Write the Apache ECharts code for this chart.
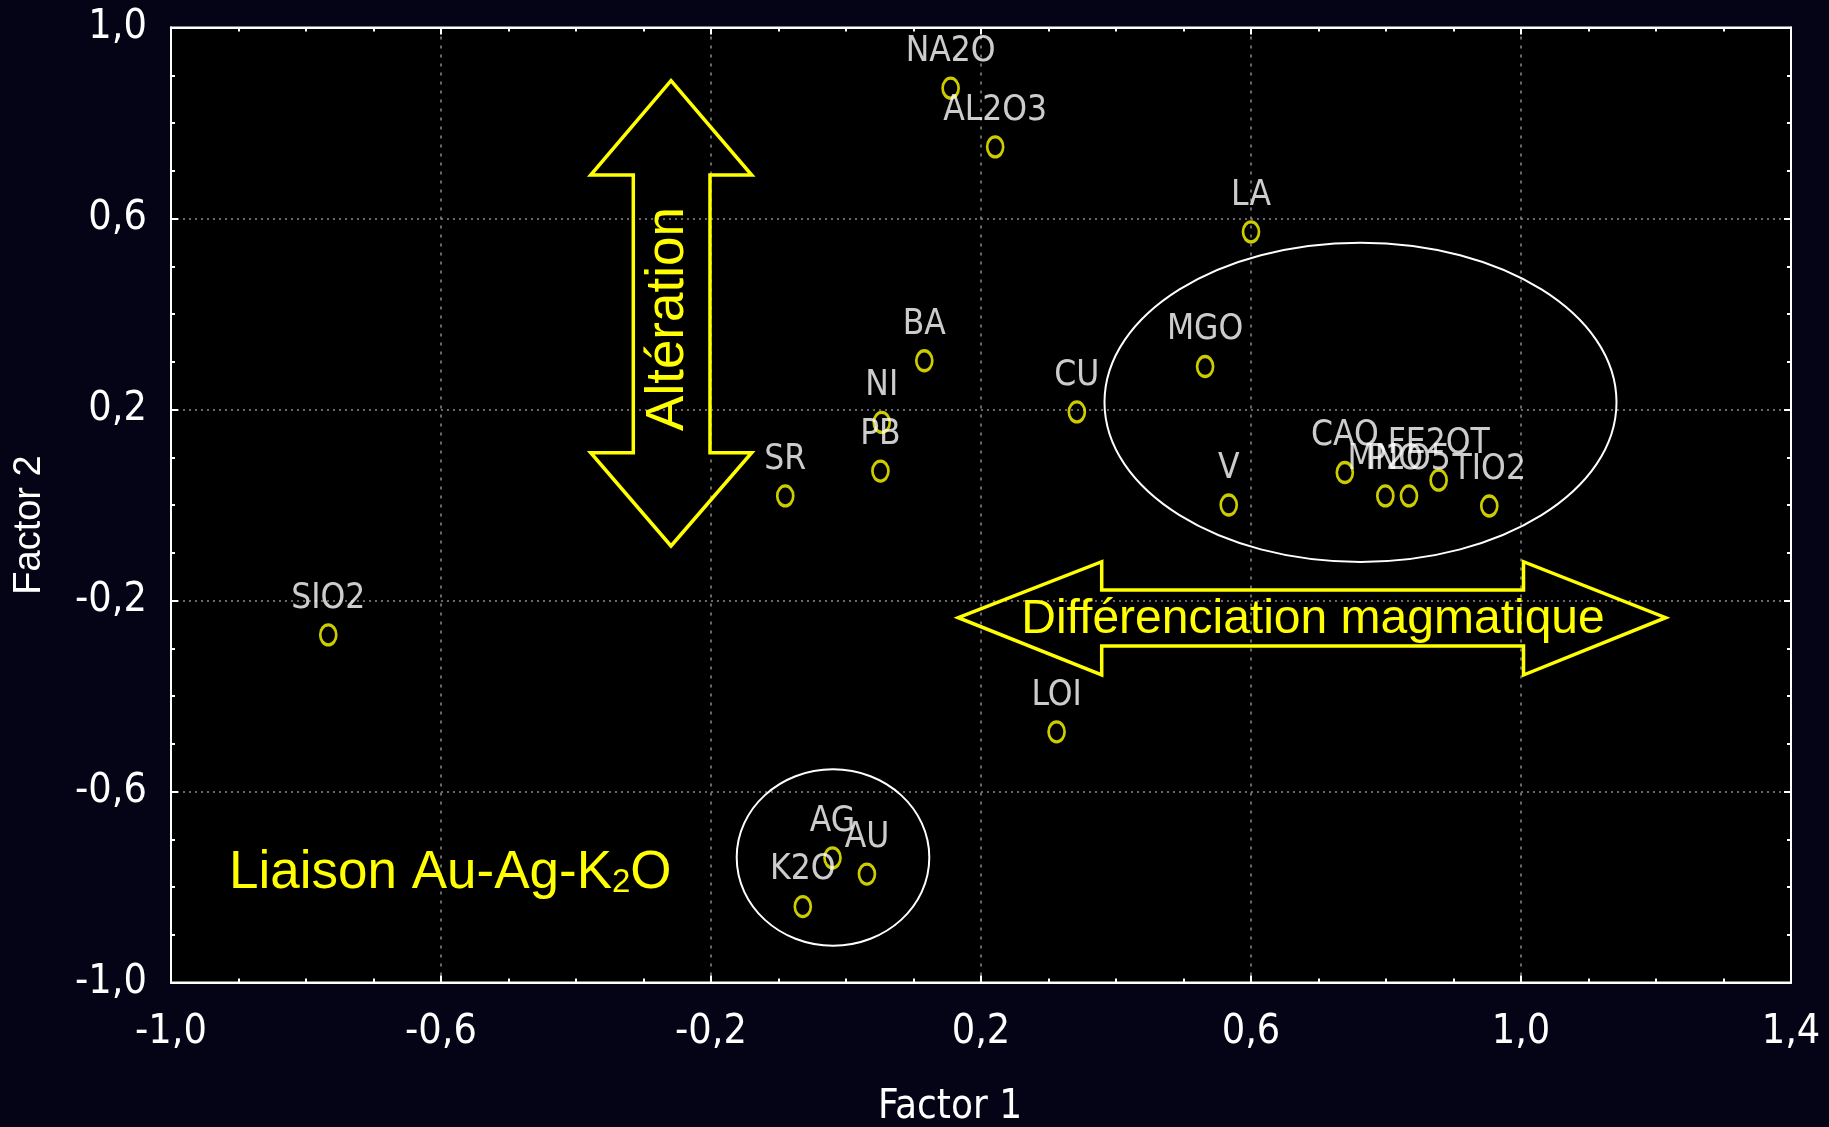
<!DOCTYPE html>
<html>
<head>
<meta charset="utf-8">
<style>
html,body{margin:0;padding:0;background:#040416;}
#chart{width:1829px;height:1127px;}
</style>
<script src="https://cdn.jsdelivr.net/npm/echarts@6/dist/echarts.min.js"></script>
</head>
<body>
<div id="chart"></div>
<script>
// ---- data ----
const variables = ['NA2O','AL2O3','LA','BA','NI','PB','SR','CU','MGO','V','CAO','MNO','P2O5','FE2OT','TIO2','SIO2','LOI','AG','AU','K2O'];
const factor1  = [0.155, 0.221, 0.600, 0.116, 0.053, 0.051, -0.090, 0.342, 0.532, 0.567, 0.739, 0.799, 0.834, 0.878, 0.953, -0.767, 0.312, -0.020, 0.031, -0.064];
const factor2  = [0.873, 0.750, 0.572, 0.302, 0.173, 0.071, 0.019, 0.195, 0.290, 0.000, 0.068, 0.019, 0.019, 0.052, -0.002, -0.272, -0.475, -0.739, -0.773, -0.841];
const xTickLabels = ['-1,0','-0,6','-0,2','0,2','0,6','1,0','1,4'];
const yTickLabels = ['-1,0','-0,6','-0,2','0,2','0,6','1,0'];
const xAxisName = 'Factor 1';
const yAxisName = 'Factor 2';
const noteAlteration = 'Altération';
const noteDiff = 'Différenciation magmatique';
const noteLiaison = ['Liaison Au-Ag-K', '2', 'O'];

// ---- styles ----
const NARROW = "'Liberation Sans Narrow','Arial Narrow','DejaVu Sans Condensed',sans-serif";
const SANS = "'Liberation Sans',Arial,sans-serif";
const YEL = '#ffff00';

const chart = echarts.init(document.getElementById('chart'), null, {renderer:'canvas'});

function tickFmt(labels, min, step){
  return v => { const i = Math.round((v - min) / step); return labels[i] !== undefined ? labels[i] : ''; };
}

const common = {
  type:'value',
  axisLine:{show:true, onZero:false, lineStyle:{color:'#ffffff', width:2}},
  axisTick:{show:true, inside:true, length:7, lineStyle:{color:'#ffffff', width:2}},
  minorTick:{show:true, splitNumber:4, length:4, lineStyle:{color:'#ffffff', width:2}},
  minorSplitLine:{show:false}
};

const option = {
  backgroundColor:'#040416',
  animation:false,
  grid:{left:171, right:38, top:27.5, bottom:144.5, containLabel:false, outerBoundsMode:'none',
    show:true, backgroundColor:'#000000', borderColor:'#ffffff', borderWidth:2},
  xAxis:[
    Object.assign({}, common, {
      min:-1, max:1.4, interval:0.4, position:'bottom',
      splitLine:{show:true, lineStyle:{color:'#8a8a8a', width:1.5, type:[3,6]}},
      axisLabel:{show:true, color:'#ffffff', fontSize:41, lineHeight:41, fontFamily:NARROW, margin:29,
        showMinLabel:true, showMaxLabel:true, formatter:tickFmt(xTickLabels, -1, 0.4)},
      name:xAxisName, nameLocation:'middle', nameGap:109,
      nameTextStyle:{color:'#ffffff', fontSize:40, lineHeight:32, fontFamily:NARROW, padding:[0,62,0,0]}
    }),
    Object.assign({}, common, {
      min:-1, max:1.4, interval:0.4, position:'top',
      splitLine:{show:false}, axisLabel:{show:false}
    })
  ],
  yAxis:[
    Object.assign({}, common, {
      min:-1, max:1, interval:0.4, position:'left',
      splitLine:{show:true, lineStyle:{color:'#8a8a8a', width:1.5, type:[2,4]}},
      axisLabel:{show:true, color:'#ffffff', fontSize:41, lineHeight:41, fontFamily:NARROW, margin:24,
        showMinLabel:true, showMaxLabel:true, formatter:tickFmt(yTickLabels, -1, 0.4)},
      name:yAxisName, nameLocation:'middle', nameGap:122,
      nameTextStyle:{color:'#ffffff', fontSize:38, lineHeight:38, fontFamily:SANS, padding:[0,40,0,0]}
    }),
    Object.assign({}, common, {
      min:-1, max:1, interval:0.4, position:'right',
      splitLine:{show:false}, axisLabel:{show:false}
    })
  ],
  series:[{
    type:'scatter',
    xAxisIndex:0, yAxisIndex:0,
    data: variables.map((n,i)=>[factor1[i], factor2[i], n]),
    symbol:'path://M10,0 A10,10 0 1,1 10,20 A10,10 0 1,1 10,0 Z',
    symbolSize:[16,20],
    itemStyle:{color:'rgba(0,0,0,0)', borderColor:YEL, borderWidth:3},
    label:{show:true, position:'top', distance:7, color:'#ffffff', fontSize:35, lineHeight:35,
      fontFamily:NARROW, formatter:p=>p.data[2]},
    emphasis:{disabled:true},
    z:5
  }],
  graphic:[
    // Altération double arrow
    {type:'polygon', z:3, shape:{points:[[671,80.7],[751.7,175],[710,175],[710,452.7],[751.7,452.7],[671,546],[590.7,452.7],[633.3,452.7],[633.3,175],[590.7,175]]},
      style:{fill:null, stroke:YEL, lineWidth:3.5, lineJoin:'miter'}},
    {type:'text', z:4, x:668, y:319, rotation:Math.PI/2,
      style:{text:noteAlteration, fill:YEL, fontSize:53, fontFamily:SANS, align:'center', verticalAlign:'middle'}},
    // Différenciation double arrow
    {type:'polygon', z:3, shape:{points:[[958.3,617.7],[1101.7,561.7],[1101.7,590],[1523.5,590],[1523.5,561.7],[1665.7,617.7],[1523.5,675],[1523.5,646],[1101.7,646],[1101.7,675]]},
      style:{fill:null, stroke:YEL, lineWidth:3.5, lineJoin:'miter'}},
    {type:'text', z:4, x:1313, y:619.5,
      style:{text:noteDiff, fill:YEL, fontSize:48, fontFamily:SANS, align:'center', verticalAlign:'middle'}},
    // ellipses
    {type:'ellipse', z:3, shape:{cx:1360.5, cy:402.3, rx:256, ry:159.6}, style:{fill:null, stroke:'#ffffff', lineWidth:2}},
    {type:'ellipse', z:3, shape:{cx:833, cy:857.5, rx:96.3, ry:88.2}, style:{fill:null, stroke:'#ffffff', lineWidth:2}},
    // Liaison text
    {type:'text', z:4, x:229, y:873,
      style:{text:'{a|'+noteLiaison[0]+'}{b|'+noteLiaison[1]+'}{a|'+noteLiaison[2]+'}', align:'left', verticalAlign:'middle',
        rich:{a:{fill:YEL, fontSize:53, lineHeight:53, fontFamily:SANS, verticalAlign:'bottom'},
              b:{fill:YEL, fontSize:33, lineHeight:39, fontFamily:SANS, verticalAlign:'bottom'}}}}
  ]
};
chart.setOption(option);
</script>
</body>
</html>
